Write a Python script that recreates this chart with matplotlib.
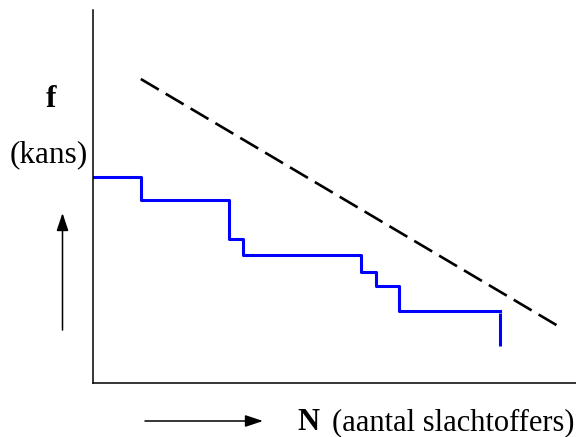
import matplotlib as mpl
import matplotlib.pyplot as plt

mpl.use("Agg")
plt.rcParams["font.family"] = ["Liberation Serif", "DejaVu Serif"]
plt.rcParams["lines.scale_dashes"] = False

# step curve (f against N), axis runs 0..100 both ways
step_x = [0, 9.9, 28.1, 31.0, 55.4, 58.5, 63.4, 84.3]
step_y = [55.2, 49.1, 38.6, 34.3, 29.8, 26.0, 19.3, 19.3]

# last drop at the end of the curve
tail_x = [84.3, 84.3]
tail_y = [18.8, 9.9]

# dashed limit line
limit_x = [9.9, 97.3]
limit_y = [81.5, 14.5]

fig = plt.figure(figsize=(5.76, 4.37), dpi=100)
ax = fig.add_axes([93 / 576, 54 / 437, 483 / 576, 373 / 437])

ax.step(step_x, step_y, where="post", color="#0000ff", lw=2.2)
ax.plot(tail_x, tail_y, color="#0000ff", lw=2.2, solid_capstyle="butt")
ax.plot(limit_x, limit_y, color="black", lw=1.9, dashes=(15, 5.8))

ax.set_xlim(0, 100)
ax.set_ylim(0, 100)
ax.set_xticks([])
ax.set_yticks([])
for side in ["top", "right"]:
    ax.spines[side].set_visible(False)
for side in ["left", "bottom"]:
    ax.spines[side].set_linewidth(1.1)

# labels
fig.text(51 / 576, 1 - 107 / 437, "f", fontsize=22.5, fontweight="bold",
         ha="center", va="baseline")
fig.text(10 / 576, 1 - 162 / 437, "(kans)", fontsize=22.5,
         ha="left", va="baseline")
fig.text(297 / 576, 1 - 430 / 437, "N", fontsize=22, fontweight="bold",
         ha="left", va="baseline")
fig.text(574 / 576, 1 - 430 / 437, "(aantal slachtoffers)", fontsize=22,
         ha="right", va="baseline")

arrow = dict(arrowstyle="-|>,head_length=0.6,head_width=0.2",
             color="black", lw=1.1, mutation_scale=18, shrinkA=0, shrinkB=0)
fig.add_artist(mpl.patches.FancyArrowPatch(
    (62.5 / 576, 1 - 330 / 437), (62.5 / 576, 1 - 213 / 437),
    transform=fig.transFigure, **arrow))
fig.add_artist(mpl.patches.FancyArrowPatch(
    (145 / 576, 1 - 421 / 437), (263 / 576, 1 - 421 / 437),
    transform=fig.transFigure, **arrow))

fig.savefig("out.png", dpi=100)
